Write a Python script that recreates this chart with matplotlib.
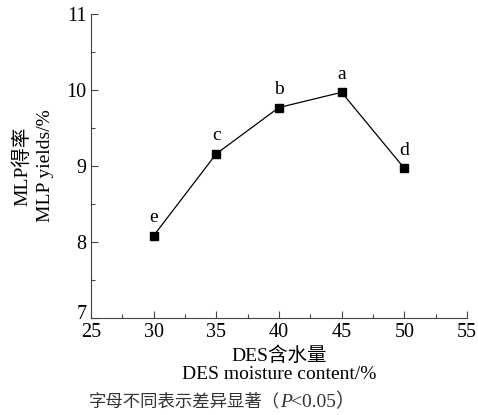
import matplotlib
matplotlib.use("Agg")
import matplotlib.pyplot as plt
from matplotlib.ticker import MultipleLocator, FuncFormatter

plt.rcParams['font.family'] = ['Liberation Serif', 'Noto Sans CJK SC']

moisture = [30, 35, 40, 45, 50]
yields = [8.08, 9.16, 9.77, 9.97, 8.97]
letters = ['e', 'c', 'b', 'a', 'd']
ymin, ymax = 7, 11

fig = plt.figure(figsize=(4.78, 4.15), dpi=100)
ax = fig.add_axes([0.19, 0.234, 0.787, 0.732])

ax.plot(moisture, yields, color='black', lw=0.9, marker='s', ms=6)
for x, y, t in zip(moisture, yields, letters):
    ax.annotate(t, (x, y), xytext=(0, 7), textcoords='offset points',
                ha='center', va='bottom', fontsize=14)

ax.set_xlim(25, 55)
ax.set_ylim(ymin, ymax)
ax.xaxis.set_major_locator(MultipleLocator(5))
ax.xaxis.set_minor_locator(MultipleLocator(2.5))
ax.yaxis.set_major_locator(MultipleLocator(1))
ax.yaxis.set_minor_locator(MultipleLocator(0.5))
# bottom "7" is drawn separately, a bit higher, so it clears the "25"
ax.yaxis.set_major_formatter(FuncFormatter(lambda v, p: '' if v == ymin else f'{v:g}'))
ax.annotate(str(ymin), xy=(0, ymin), xycoords=('axes fraction', 'data'),
            xytext=(-3, -1), textcoords='offset points', ha='right', va='baseline',
            fontsize=14.5)
ax.tick_params(which='both', direction='in', labelsize=14.5, width=0.8, color='#444444')
ax.tick_params(which='major', length=5)
ax.tick_params(which='minor', length=3)
ax.tick_params(axis='x', pad=4)
ax.tick_params(axis='y', pad=3)
for s in ['top', 'right']:
    ax.spines[s].set_visible(False)
for s in ['left', 'bottom']:
    ax.spines[s].set_color('#444444')

ax.set_xlabel('DES含水量\nDES moisture content/%', fontsize=14, linespacing=1.05, labelpad=3)
ax.set_ylabel('MLP得率\nMLP yields/%', fontsize=14, linespacing=1.45, labelpad=9)

# caption with italic P
cap_y = 0.02
fig.text(280 / 478, cap_y, '字母不同表示差异显著（', ha='right', fontsize=12.5,
         family=['Noto Sans CJK SC'], color='#333333')
fig.text(280 / 478, cap_y, 'P', ha='left', fontsize=14, style='italic', color='#333333')
fig.text(291 / 478, cap_y, '<0.05）', ha='left', fontsize=14,
         family=['Liberation Serif', 'Noto Sans CJK SC'], color='#333333')

fig.savefig('out.png', dpi=100)
